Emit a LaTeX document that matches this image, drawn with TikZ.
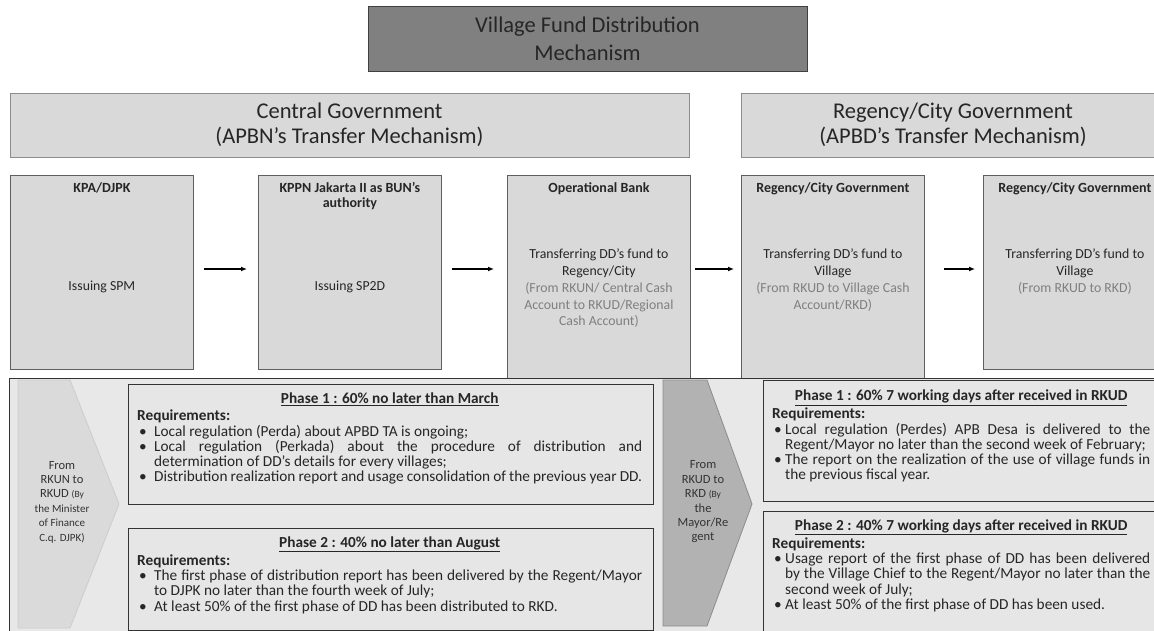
\documentclass[tikz,border=0pt]{standalone}
\usepackage{fontspec}
\setmainfont{Carlito}
\usetikzlibrary{arrows.meta, positioning}

\definecolor{titlefill}{HTML}{808080}
\definecolor{boxfill}{HTML}{D9D9D9}
\definecolor{boxedge}{HTML}{5F5F5F}
\definecolor{panelfill}{HTML}{E8E8E8}
\definecolor{phasefill}{HTML}{E6E6E6}
\definecolor{chevlight}{HTML}{DADADA}
\definecolor{chevdark}{HTML}{B2B2B2}
\definecolor{notegray}{HTML}{7F7F7F}
\definecolor{inkgray}{HTML}{262626}

\hyphenpenalty=10000
\exhyphenpenalty=10000

% one bullet line of a requirement list
\newcommand{\reqitem}[2][13pt]{\par\hangindent=#1\hangafter=1\noindent\hbox to #1{\hskip 2pt\textbullet\hss}#2\par}
\newcommand{\phasehead}[1]{\noindent{\centering\textbf{\underline{#1}}\par}\vspace{1.5pt}\noindent\textbf{Requirements:}}
\newcommand{\notetext}[1]{\textcolor{notegray}{#1}}

\begin{document}
\begin{tikzpicture}[x=1pt, y=-1pt,
    titlebox/.style={draw=black!75, fill=titlefill, line width=0.8pt, minimum width=439pt, minimum height=65pt,
      align=center, text=inkgray, font=\fontsize{22.5}{28}\selectfont},
    headbox/.style={draw=black!45, fill=boxfill, line width=0.8pt, minimum height=64pt,
      align=center, text=inkgray, font=\fontsize{22.5}{25}\selectfont},
    stepbox/.style={draw=boxedge, fill=boxfill, line width=0.8pt, minimum width=183pt, anchor=north west, inner sep=0pt},
    stephead/.style={anchor=north, align=center, inner sep=0pt, text=inkgray, font=\fontsize{14}{15.5}\selectfont\bfseries},
    stepbody/.style={align=center, inner sep=0pt, text=inkgray, font=\fontsize{13.8}{16.7}\selectfont},
    phasebox/.style={draw=black!80, fill=phasefill, line width=0.8pt, anchor=north west, inner sep=0pt},
    phasetext/.style={anchor=north west, inner sep=0pt, align=justify, text=inkgray, font=\fontsize{15.3}{15.3}\selectfont},
    chevtext/.style={align=center, inner sep=0pt, text=black!80, font=\fontsize{12.5}{14.4}\selectfont},
    flow/.style={-{Latex[length=6pt,width=5pt]}, line width=1.3pt}
  ]
  \useasboundingbox (0,0) rectangle (1154,631);
  \clip (0,0) rectangle (1154,631);

  % title and the two levels of government
  \node[titlebox] (title) at (587.5,38.5) {Village Fund Distribution\\Mechanism};
  \node[headbox, minimum width=679pt] (central) at (349.5,125) {Central Government\\(APBN’s Transfer Mechanism)};
  \node[headbox, minimum width=424pt] (regency) at (953,125) {Regency/City Government\\(APBD’s Transfer Mechanism)};

  % the five steps
  \node[stepbox, minimum height=194pt] (kpa) at (10,175) {};
  \node[stepbox, minimum height=194pt] (kppn) at (258,175) {};
  \node[stepbox, minimum height=203pt] (bank) at (507,175) {};
  \node[stepbox, minimum height=203pt] (regcity) at (741,175) {};
  \node[stepbox, minimum height=194pt] (regvillage) at (983,175) {};

  \node[stephead] (kpa-head) at ([yshift=-7pt]kpa.north) {KPA/DJPK};
  \node[stephead] (kppn-head) at ([yshift=-7pt]kppn.north) {KPPN Jakarta II as BUN’s\\authority};
  \node[stephead] (bank-head) at ([yshift=-7pt]bank.north) {Operational Bank};
  \node[stephead] (regcity-head) at ([yshift=-7pt]regcity.north) {Regency/City Government};
  \node[stephead] (regvillage-head) at ([yshift=-7pt]regvillage.north) {Regency/City Government};

  \node[stepbody] (kpa-body) at ([yshift=-112pt]kpa.north) {Issuing SPM};
  \node[stepbody] (kppn-body) at ([yshift=-112pt]kppn.north) {Issuing SP2D};
  \node[stepbody, anchor=north] (bank-body) at ([yshift=-74pt]bank.north)
    {Transferring DD’s fund to\\Regency/City\\\notetext{(From RKUN/ Central Cash}\\\notetext{Account to RKUD/Regional}\\\notetext{Cash Account)}};
  \node[stepbody, anchor=north] (regcity-body) at ([yshift=-74pt]regcity.north)
    {Transferring DD’s fund to\\Village\\\notetext{(From RKUD to Village Cash}\\\notetext{Account/RKD)}};
  \node[stepbody, anchor=north] (regvillage-body) at ([yshift=-74pt]regvillage.north)
    {Transferring DD’s fund to\\Village\\\notetext{(From RKUD to RKD)}};

  \coordinate (flowline) at (0,269);
  \draw[flow, shorten <=10pt, shorten >=11pt] (kpa.east |- flowline) -- (kppn.west |- flowline);
  \draw[flow, shorten <=10pt, shorten >=13pt] (kppn.east |- flowline) -- (bank.west |- flowline);
  \draw[flow, shorten <=4pt, shorten >=7pt] (bank.east |- flowline) -- (regcity.west |- flowline);
  \draw[flow, shorten <=19pt, shorten >=8pt] (regcity.east |- flowline) -- (regvillage.west |- flowline);

  % distribution phases
  \node[draw=black!80, fill=panelfill, line width=0.8pt, anchor=north west, inner sep=0pt,
    minimum width=1170pt, minimum height=270pt] (panel) at (9,378) {};

  \filldraw[fill=chevlight, draw=black!20, line width=0.8pt] (18,380) -- (70,380) -- (119,504) -- (70,628) -- (18,628) -- cycle;
  \node[chevtext] (left-via) at (62,502) {From\\RKUN to\\RKUD {\fontsize{9.5}{11}\selectfont(By}\\{\fontsize{11}{13}\selectfont the Minister}\\{\fontsize{11}{13}\selectfont of Finance}\\{\fontsize{11}{13}\selectfont C.q. DJPK)}};

  \filldraw[fill=chevdark, draw=black!45, line width=0.8pt] (663,380) -- (707,380) -- (752,504) -- (707,626) -- (663,626) -- cycle;
  \node[chevtext] (mid-via) at (703,502) {From\\RKUD to\\RKD {\fontsize{9.5}{11}\selectfont(By}\\the\\Mayor/Re\\gent};

  \node[phasebox, minimum width=525pt, minimum height=120pt] (left-p1) at (128,384) {};
  \node[phasebox, minimum width=525pt, minimum height=102pt] (left-p2) at (128,528) {};
  \node[phasebox, minimum width=410pt, minimum height=121pt] (right-p1) at (763,380) {};
  \node[phasebox, minimum width=410pt, minimum height=135pt] (right-p2) at (763,511) {};

  \node[phasetext, text width=505pt] (left-p1-text) at (137,393) {\phasehead{Phase 1 : 60\% no later than March}
    \reqitem[17pt]{Local regulation (Perda) about APBD TA is ongoing;}
    \reqitem[17pt]{Local regulation (Perkada) about the procedure of distribution and\linebreak determination of DD’s details for every villages;}
    \reqitem[17pt]{Distribution realization report and usage consolidation of the previous year DD.}};
  \node[phasetext, text width=505pt] (left-p2-text) at (137,536.5) {\phasehead{Phase 2 : 40\% no later than August}
    \reqitem[17pt]{The first phase of distribution report has been delivered by the Regent/Mayor\linebreak to DJPK no later than the fourth week of July;}
    \reqitem[17pt]{At least 50\% of the first phase of DD has been distributed to RKD.}};
  \node[phasetext, text width=378pt] (right-p1-text) at (772,390) {\phasehead{Phase 1 : 60\% 7 working days after received in RKUD}
    \reqitem{Local regulation (Perdes) APB Desa is delivered to the\linebreak Regent/Mayor no later than the second week of February;}
    \reqitem{The report on the realization of the use of village funds in\linebreak the previous fiscal year.}};
  \node[phasetext, text width=378pt] (right-p2-text) at (772,519.5) {\phasehead{Phase 2 : 40\% 7 working days after received in RKUD}
    \reqitem{Usage report of the first phase of DD has been delivered\linebreak by the Village Chief to the Regent/Mayor no later than the\linebreak second week of July;}
    \reqitem{At least 50\% of the first phase of DD has been used.}};
\end{tikzpicture}
\end{document}
